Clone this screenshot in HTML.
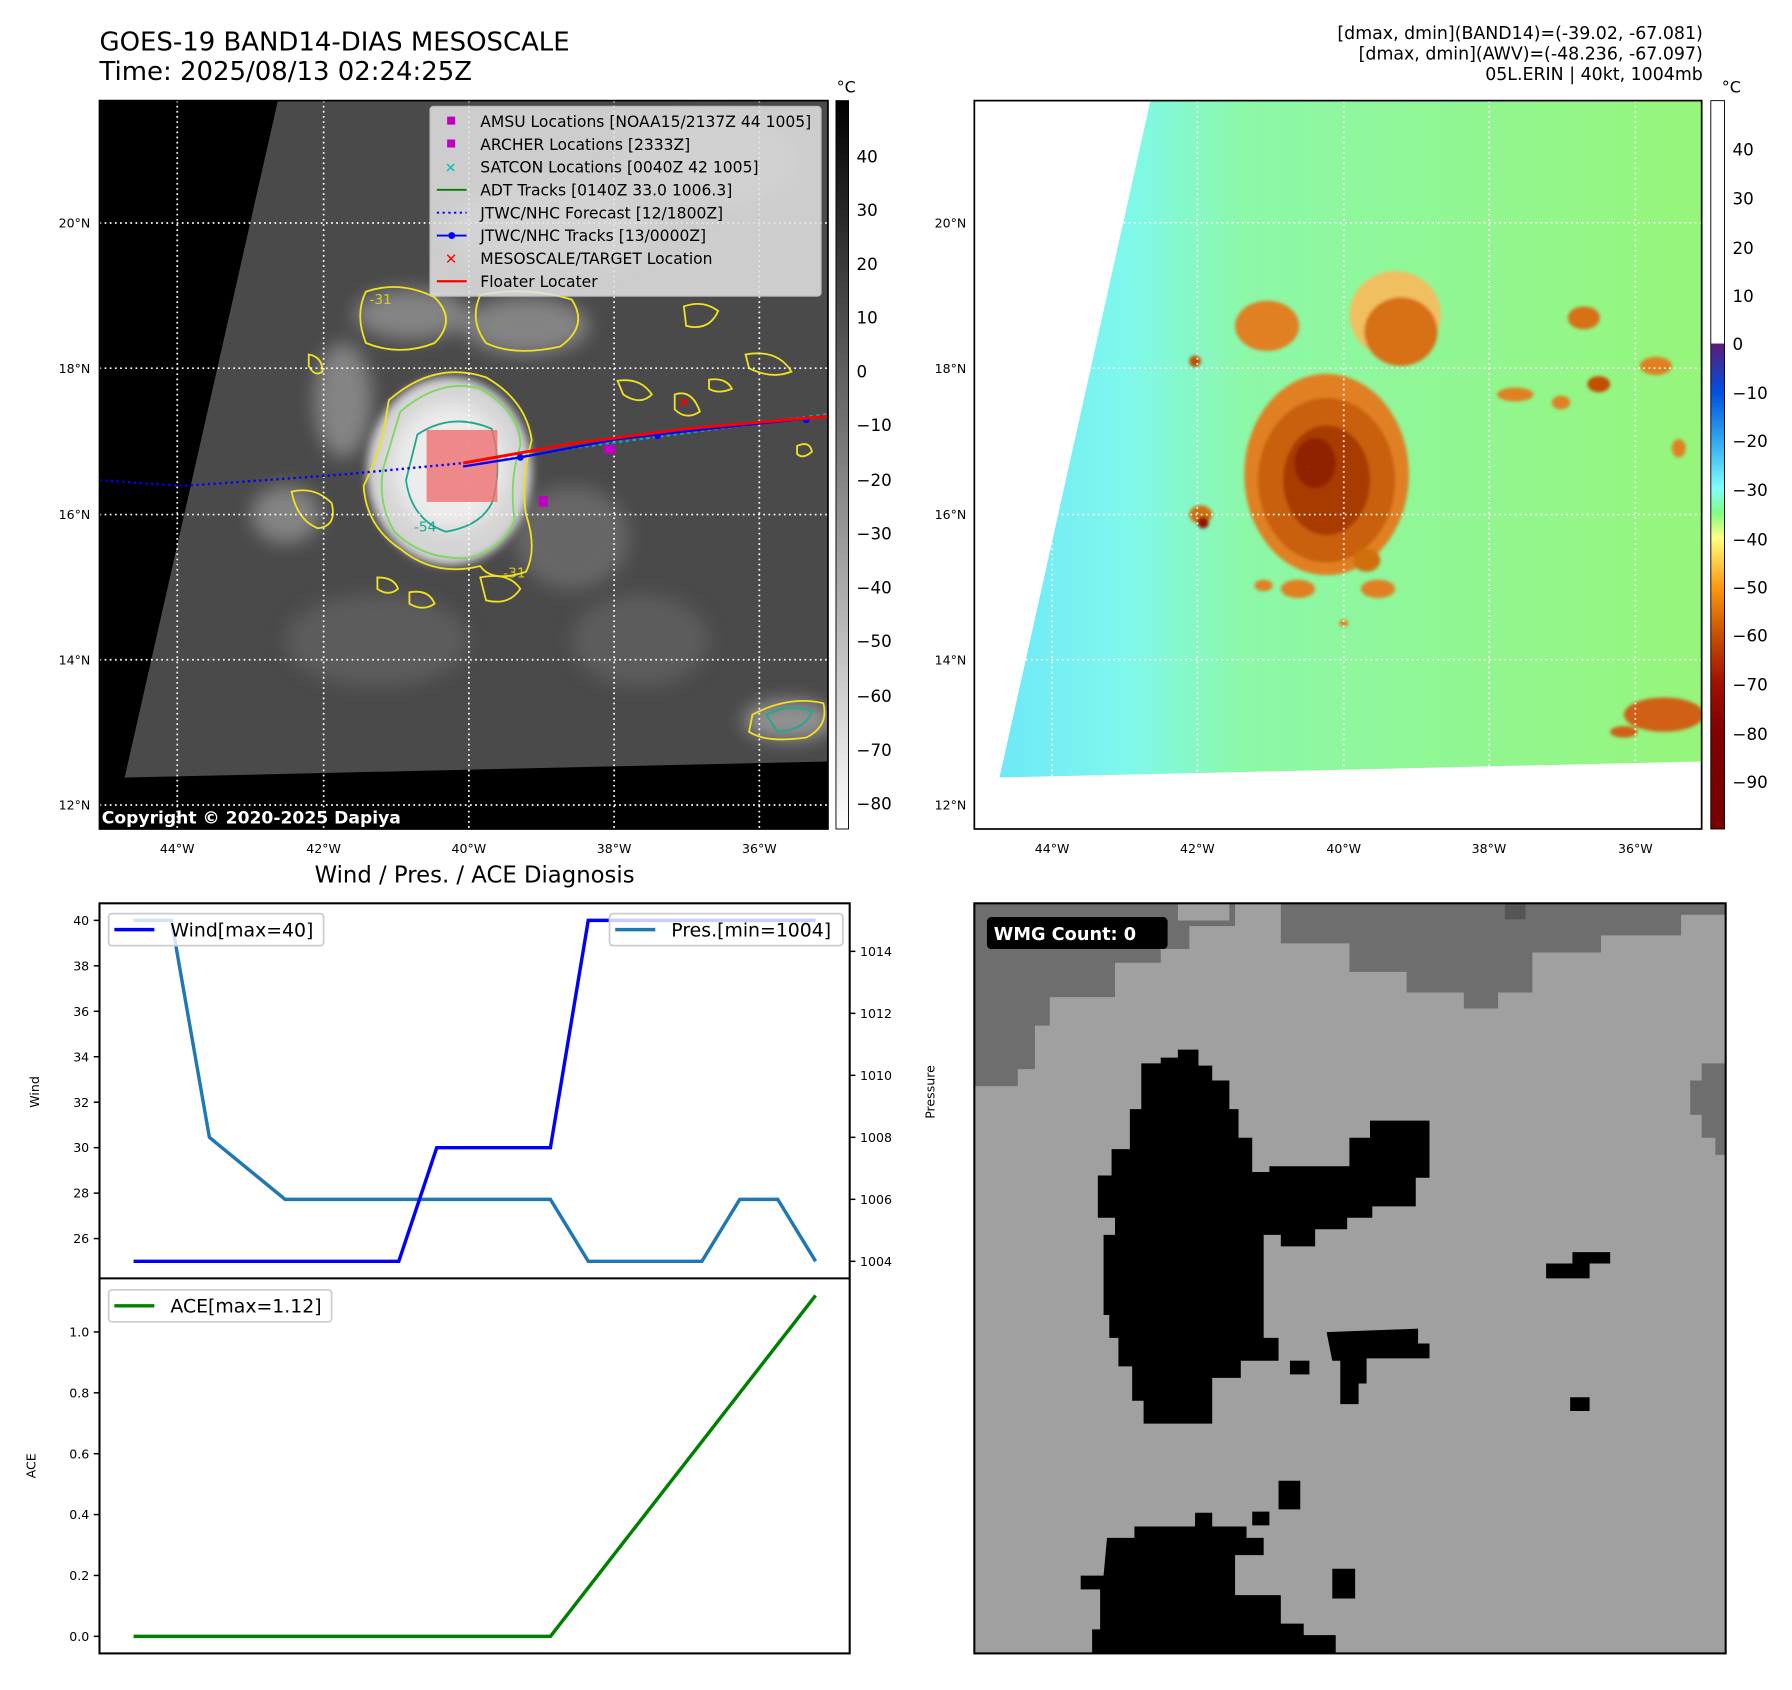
<!DOCTYPE html>
<html><head><meta charset="utf-8">
<style>
html,body{margin:0;padding:0;background:#fff;}
svg{display:block;font-family:"DejaVu Sans","Liberation Sans",sans-serif;}
</style></head>
<body>
<svg id="root" width="1792" height="1690" viewBox="0 0 1567 1478" preserveAspectRatio="none" xmlns="http://www.w3.org/2000/svg">
<defs>
  <filter id="blur4"><feGaussianBlur stdDeviation="4"/></filter>
  <filter id="blur8"><feGaussianBlur stdDeviation="8"/></filter>
  <filter id="blur2"><feGaussianBlur stdDeviation="1.5"/></filter>
  <linearGradient id="cbGray" x1="0" y1="1" x2="0" y2="0">
    <stop offset="0" stop-color="#ffffff"/><stop offset="1" stop-color="#000000"/>
  </linearGradient>
  <linearGradient id="cbColor" x1="0" y1="0" x2="0" y2="1">
    <stop offset="0" stop-color="#ffffff"/>
    <stop offset="0.333" stop-color="#ffffff"/>
    <stop offset="0.334" stop-color="#5a1a7a"/>
    <stop offset="0.40" stop-color="#0050e0"/>
    <stop offset="0.467" stop-color="#30a8f0"/>
    <stop offset="0.533" stop-color="#80ffff"/>
    <stop offset="0.567" stop-color="#80ff80"/>
    <stop offset="0.60" stop-color="#ffff80"/>
    <stop offset="0.667" stop-color="#ff9a10"/>
    <stop offset="0.733" stop-color="#c85000"/>
    <stop offset="0.80" stop-color="#a01000"/>
    <stop offset="0.87" stop-color="#800000"/>
    <stop offset="1" stop-color="#780000"/>
  </linearGradient>
  <linearGradient id="swathGrad" x1="0" y1="0" x2="1" y2="0">
    <stop offset="0" stop-color="#6ee8f8"/>
    <stop offset="0.18" stop-color="#7ff8ec"/>
    <stop offset="0.35" stop-color="#8cf8a8"/>
    <stop offset="1" stop-color="#96f57a"/>
  </linearGradient>
  <clipPath id="clipL"><rect x="87" y="88" width="637" height="637"/></clipPath>
  <clipPath id="clipR"><rect x="852" y="88" width="636" height="637"/></clipPath>
  <clipPath id="clipB"><rect x="852" y="790" width="657" height="656"/></clipPath>
</defs>

<!-- Titles -->
<text x="87" y="44" font-size="22.7" fill="#000">GOES-19 BAND14-DIAS MESOSCALE</text>
<text x="87" y="70" font-size="22.7" fill="#000">Time: 2025/08/13 02:24:25Z</text>
<g font-size="15.2" text-anchor="end" fill="#000">
  <text x="1489" y="34">[dmax, dmin](BAND14)=(-39.02, -67.081)</text>
  <text x="1489" y="52">[dmax, dmin](AWV)=(-48.236, -67.097)</text>
  <text x="1489" y="70">05L.ERIN | 40kt, 1004mb</text>
</g>

<!-- LEFT MAP -->
<g clip-path="url(#clipL)">
  <rect x="87" y="88" width="637" height="637" fill="#000"/>
  <polygon points="243,88 724,88 724,666 109,680" fill="#4a4a4a"/>
  <g filter="url(#blur8)" fill="#8a8a8a" opacity="0.9">
    <ellipse cx="360" cy="275" rx="50" ry="22"/>
    <ellipse cx="460" cy="285" rx="55" ry="25"/>
    <ellipse cx="300" cy="350" rx="25" ry="50"/>
    <ellipse cx="500" cy="470" rx="50" ry="45" fill="#6a6a6a"/>
    <ellipse cx="330" cy="560" rx="80" ry="40" fill="#5e5e5e"/>
    <ellipse cx="560" cy="560" rx="60" ry="40" fill="#5e5e5e"/>
    <ellipse cx="250" cy="450" rx="30" ry="25"/>
    <ellipse cx="690" cy="630" rx="40" ry="18" fill="#9a9a9a"/>
    <ellipse cx="480" cy="200" rx="90" ry="40" fill="#7a7a7a"/>
    <ellipse cx="620" cy="140" rx="80" ry="40" fill="#6a6a6a"/>
  </g>
  <ellipse cx="393" cy="412" rx="72" ry="82" fill="#d4d4d4" filter="url(#blur4)"/>
  <ellipse cx="393" cy="408" rx="50" ry="55" fill="#ececec" filter="url(#blur8)"/>
  <g fill="none" stroke-width="1.6">
    <path d="M340,350 Q380,315 425,330 Q460,350 465,385 Q455,420 460,450 Q470,480 460,500 Q430,510 420,495 Q380,505 350,480 Q320,460 318,425 Q330,400 335,380 Z" stroke="#f0e020"/>
    <path d="M350,360 Q385,330 420,340 Q455,360 455,390 Q445,420 450,455 Q440,480 410,488 Q370,490 345,465 Q330,440 335,410 Z" stroke="#7ed860"/>
    <path d="M365,380 Q395,360 430,375 Q440,410 430,440 Q420,460 390,465 Q360,455 355,420 Z" stroke="#20a890"/>
    <path d="M320,255 Q350,245 380,260 Q400,280 380,300 Q350,312 320,300 Q310,275 320,255 Z" stroke="#f0e020"/>
    <path d="M420,258 Q460,250 500,262 Q515,285 490,303 Q450,312 425,300 Q410,280 420,258 Z" stroke="#f0e020"/>
    <path d="M255,430 Q275,425 290,440 Q295,460 278,462 Q260,455 255,430 Z" stroke="#f0e020"/>
    <path d="M420,505 Q445,500 455,515 Q445,530 425,525 Z" stroke="#f0e020"/>
    <path d="M330,505 Q345,505 348,515 Q340,522 330,515 Z" stroke="#f0e020"/>
    <path d="M358,518 Q375,515 380,528 Q370,535 358,528 Z" stroke="#f0e020"/>
    <path d="M540,333 Q560,330 570,345 Q560,355 545,345 Z" stroke="#f0e020"/>
    <path d="M590,345 Q605,340 612,360 Q600,368 590,358 Z" stroke="#f0e020"/>
    <path d="M598,268 Q615,262 628,272 Q620,290 600,285 Z" stroke="#f0e020"/>
    <path d="M652,310 Q680,305 692,325 Q675,332 655,322 Z" stroke="#f0e020"/>
    <path d="M620,332 Q635,330 640,340 Q628,345 620,340 Z" stroke="#f0e020"/>
    <path d="M658,625 Q690,608 720,615 Q725,635 705,645 Q670,650 655,640 Z" stroke="#f0e020"/>
    <path d="M670,625 Q690,615 710,622 Q705,638 680,640 Z" stroke="#20a890"/>
    <path d="M270,310 Q282,312 282,325 Q275,330 270,320 Z" stroke="#f0e020"/>
    <path d="M697,390 Q708,385 710,395 Q702,402 697,397 Z" stroke="#f0e020"/>
  </g>
  <g font-size="12" fill="#f0e020" opacity="0.8"><text x="323" y="266">-31</text><text x="440" y="505">-31</text></g>
  <text x="362" y="465" font-size="12" fill="#20a890">-54</text>
  <g stroke="#fff" stroke-width="1.5" stroke-dasharray="1.5,3">
    <line x1="155" y1="88" x2="155" y2="725"/><line x1="283" y1="88" x2="283" y2="725"/><line x1="410" y1="88" x2="410" y2="725"/><line x1="537" y1="88" x2="537" y2="725"/><line x1="664" y1="88" x2="664" y2="725"/>
    <line x1="87" y1="195" x2="724" y2="195"/><line x1="87" y1="322" x2="724" y2="322"/><line x1="87" y1="450" x2="724" y2="450"/><line x1="87" y1="577" x2="724" y2="577"/><line x1="87" y1="704" x2="724" y2="704"/>
  </g>
  <rect x="373" y="376" width="62" height="63" fill="#f07070" opacity="0.8"/>
  <polyline points="87,420 160,425 300,415 405,405" fill="none" stroke="#0000ff" stroke-width="2" stroke-dasharray="2,3"/>
  <polyline points="405,408 500,392 620,376 724,362" fill="none" stroke="#00b0b0" stroke-width="2" stroke-dasharray="3,3"/>
  <polyline points="405,408 455,400 540,384 620,375 705,366" fill="none" stroke="#0000ff" stroke-width="2"/>
  <circle cx="455" cy="400" r="3" fill="#0000ff"/><circle cx="575" cy="381" r="3" fill="#0000ff"/><circle cx="705" cy="367" r="3" fill="#0000ff"/>
  <polyline points="405,405 500,388 600,375 724,364" fill="none" stroke="#ff0000" stroke-width="2.5"/>
  <rect x="471" y="434" width="8" height="9" fill="#c000c0"/>
  <rect x="528" y="389" width="10" height="8" fill="#c000c0"/>
  <text x="598" y="357" font-size="14" font-weight="bold" fill="#ff0000" text-anchor="middle">✕</text>
  <g>
    <rect x="376" y="93" width="342" height="166" rx="3" fill="#e4e4e4" opacity="0.85" stroke="#ccc"/>
    <g font-size="13.6" fill="#000">
      <rect x="391" y="102" width="7" height="7" fill="#c000c0"/><text x="420" y="111">AMSU Locations [NOAA15/2137Z 44 1005]</text>
      <rect x="391" y="122" width="7" height="7" fill="#c000c0"/><text x="420" y="131">ARCHER Locations [2333Z]</text>
      <text x="389" y="151" font-size="12" fill="#00c0c0" font-weight="bold">✕</text><text x="420" y="151">SATCON Locations [0040Z 42 1005]</text>
      <line x1="382" y1="166" x2="408" y2="166" stroke="#008000" stroke-width="1.6"/><text x="420" y="171">ADT Tracks [0140Z 33.0 1006.3]</text>
      <line x1="382" y1="186" x2="408" y2="186" stroke="#0000ff" stroke-width="1.6" stroke-dasharray="2,3"/><text x="420" y="191">JTWC/NHC Forecast [12/1800Z]</text>
      <line x1="382" y1="206" x2="408" y2="206" stroke="#0000ff" stroke-width="1.6"/><circle cx="395" cy="206" r="3" fill="#0000ff"/><text x="420" y="211">JTWC/NHC Tracks [13/0000Z]</text>
      <text x="389" y="231" font-size="13" fill="#ff0000" font-weight="bold">✕</text><text x="420" y="231">MESOSCALE/TARGET Location</text>
      <line x1="382" y1="246" x2="408" y2="246" stroke="#ff0000" stroke-width="2"/><text x="420" y="251">Floater Locater</text>
    </g>
  </g>
  <text x="89" y="720" font-size="15" font-weight="bold" fill="#fff">Copyright © 2020-2025 Dapiya</text>
</g>
<rect x="87" y="88" width="637" height="637" fill="none" stroke="#000" stroke-width="1.5"/>
<g font-size="11" fill="#000" text-anchor="middle">
  <text x="155" y="746">44°W</text><text x="283" y="746">42°W</text><text x="410" y="746">40°W</text><text x="537" y="746">38°W</text><text x="664" y="746">36°W</text>
</g>
<g font-size="11" fill="#000" text-anchor="end">
  <text x="79" y="199">20°N</text><text x="79" y="326">18°N</text><text x="79" y="454">16°N</text><text x="79" y="581">14°N</text><text x="79" y="708">12°N</text>
</g>
<g>
  <rect x="731" y="88" width="11" height="637" fill="url(#cbGray)" stroke="#000" stroke-width="0.8"/>
  <text x="740" y="81" font-size="14" text-anchor="middle">°C</text>
  <g font-size="14.6" fill="#000">
    <text x="749" y="142">40</text><text x="749" y="189">30</text><text x="749" y="236">20</text><text x="749" y="283">10</text><text x="749" y="330">0</text>
    <text x="749" y="377">−10</text><text x="749" y="425">−20</text><text x="749" y="472">−30</text><text x="749" y="519">−40</text><text x="749" y="566">−50</text>
    <text x="749" y="614">−60</text><text x="749" y="661">−70</text><text x="749" y="708">−80</text>
  </g>
</g>

<!-- RIGHT MAP -->
<g clip-path="url(#clipR)">
  <rect x="852" y="88" width="636" height="637" fill="#fff"/>
  <polygon points="1006,88 1488,88 1488,666 874,680" fill="url(#swathGrad)"/>
  <g filter="url(#blur2)">
    <ellipse cx="1160" cy="415" rx="72" ry="88" fill="#e08020"/>
    <ellipse cx="1160" cy="420" rx="60" ry="72" fill="#c86010"/>
    <ellipse cx="1160" cy="420" rx="38" ry="48" fill="#a83a00"/>
    <ellipse cx="1150" cy="405" rx="18" ry="22" fill="#902000"/>
    <ellipse cx="1108" cy="285" rx="28" ry="22" fill="#e08020"/>
    <ellipse cx="1220" cy="275" rx="40" ry="38" fill="#f0c060"/>
    <ellipse cx="1225" cy="290" rx="32" ry="30" fill="#d87018"/>
    <ellipse cx="1050" cy="450" rx="10" ry="8" fill="#d07010"/>
    <ellipse cx="1052" cy="457" rx="5" ry="5" fill="#901800"/>
    <ellipse cx="1385" cy="278" rx="14" ry="10" fill="#d87018"/>
    <ellipse cx="1398" cy="336" rx="10" ry="7" fill="#c05000"/>
    <ellipse cx="1448" cy="320" rx="14" ry="8" fill="#e08020"/>
    <ellipse cx="1325" cy="345" rx="16" ry="6" fill="#e08020"/>
    <ellipse cx="1365" cy="352" rx="8" ry="6" fill="#e08020"/>
    <ellipse cx="1468" cy="392" rx="6" ry="8" fill="#e08020"/>
    <ellipse cx="1455" cy="625" rx="35" ry="15" fill="#d06018"/>
    <ellipse cx="1420" cy="640" rx="12" ry="5" fill="#d06018"/>
    <ellipse cx="1195" cy="490" rx="12" ry="10" fill="#d07010"/>
    <ellipse cx="1135" cy="515" rx="15" ry="8" fill="#e08020"/>
    <ellipse cx="1205" cy="515" rx="15" ry="8" fill="#e08020"/>
    <ellipse cx="1105" cy="512" rx="8" ry="5" fill="#e08020"/>
    <ellipse cx="1175" cy="545" rx="4" ry="3" fill="#e08020"/>
    <ellipse cx="1045" cy="316" rx="5" ry="5" fill="#c05000"/>
  </g>
  <g stroke="#fff" stroke-width="1.5" stroke-dasharray="1.5,3">
    <line x1="920" y1="88" x2="920" y2="725"/><line x1="1047" y1="88" x2="1047" y2="725"/><line x1="1175" y1="88" x2="1175" y2="725"/><line x1="1302" y1="88" x2="1302" y2="725"/><line x1="1430" y1="88" x2="1430" y2="725"/>
    <line x1="852" y1="195" x2="1488" y2="195"/><line x1="852" y1="322" x2="1488" y2="322"/><line x1="852" y1="450" x2="1488" y2="450"/><line x1="852" y1="577" x2="1488" y2="577"/><line x1="852" y1="704" x2="1488" y2="704"/>
  </g>
</g>
<rect x="852" y="88" width="636" height="637" fill="none" stroke="#000" stroke-width="1.5"/>
<g font-size="11" fill="#000" text-anchor="middle">
  <text x="920" y="746">44°W</text><text x="1047" y="746">42°W</text><text x="1175" y="746">40°W</text><text x="1302" y="746">38°W</text><text x="1430" y="746">36°W</text>
</g>
<g font-size="11" fill="#000" text-anchor="end">
  <text x="845" y="199">20°N</text><text x="845" y="326">18°N</text><text x="845" y="454">16°N</text><text x="845" y="581">14°N</text><text x="845" y="708">12°N</text>
</g>
<g>
  <rect x="1496" y="88" width="12" height="637" fill="url(#cbColor)" stroke="#000" stroke-width="0.8"/>
  <text x="1514" y="81" font-size="14" text-anchor="middle">°C</text>
  <g font-size="14.6" fill="#000">
    <text x="1515" y="136">40</text><text x="1515" y="179">30</text><text x="1515" y="222">20</text><text x="1515" y="264">10</text><text x="1515" y="306">0</text>
    <text x="1515" y="349">−10</text><text x="1515" y="391">−20</text><text x="1515" y="434">−30</text><text x="1515" y="477">−40</text><text x="1515" y="519">−50</text>
    <text x="1515" y="561">−60</text><text x="1515" y="604">−70</text><text x="1515" y="647">−80</text><text x="1515" y="689">−90</text>
  </g>
</g>

<!-- BOTTOM RIGHT WMG -->
<g clip-path="url(#clipB)">
  <rect x="852" y="790" width="657" height="656" fill="#a0a0a0"/>
  <g fill="#6e6e6e">
    <polygon points="852,790 1030,790 1030,805 1075,805 1075,790 1509,790 1509,800 1470,800 1470,818 1400,818 1400,833 1340,833 1340,868 1310,868 1310,882 1280,882 1280,868 1230,868 1230,850 1180,850 1180,825 1120,825 1120,790 1080,790 1080,810 1040,810 1040,830 1015,830 1015,842 975,842 975,872 918,872 918,897 905,897 905,935 890,935 890,950 852,950"/>
    <polygon points="1488,930 1509,930 1509,1010 1500,1010 1500,995 1488,995 1488,975 1478,975 1478,945 1488,945"/>
    <rect x="1316" y="790" width="18" height="14" fill="#555"/>
  </g>
  <g fill="#000">
    <polygon points="1030,918 1048,918 1048,932 1060,932 1060,945 1075,945 1075,970 1083,970 1083,995 1095,995 1095,1025 1110,1025 1110,1020 1180,1020 1180,995 1198,995 1198,980 1250,980 1250,1030 1238,1030 1238,1055 1200,1055 1200,1065 1178,1065 1178,1075 1150,1075 1150,1090 1120,1090 1120,1080 1105,1080 1105,1170 1118,1170 1118,1190 1085,1190 1085,1205 1060,1205 1060,1245 1000,1245 1000,1225 990,1225 990,1195 978,1195 978,1170 970,1170 970,1150 965,1150 965,1080 975,1080 975,1065 960,1065 960,1028 972,1028 972,1005 988,1005 988,970 998,970 998,930 1015,930 1015,925 1030,925"/>
    <polygon points="1160,1165 1240,1162 1240,1175 1250,1175 1250,1188 1195,1188 1195,1210 1188,1210 1188,1228 1172,1228 1172,1190 1165,1190"/>
    <rect x="1128" y="1190" width="17" height="12"/>
    <polygon points="1352,1105 1375,1105 1375,1095 1408,1095 1408,1105 1390,1105 1390,1118 1352,1118"/>
    <rect x="1373" y="1222" width="17" height="12"/>
    <polygon points="1118,1295 1137,1295 1137,1320 1118,1320"/>
    <rect x="1095" y="1322" width="15" height="12"/>
    <polygon points="1165,1372 1185,1372 1185,1398 1165,1398"/>
    <polygon points="968,1345 992,1345 992,1335 1045,1335 1045,1323 1060,1323 1060,1335 1090,1335 1090,1345 1105,1345 1105,1360 1080,1360 1080,1395 1120,1395 1120,1420 1140,1420 1140,1430 1168,1430 1168,1446 955,1446 955,1425 962,1425 962,1390 945,1390 945,1378 965,1378"/>
  </g>
  <rect x="863" y="802" width="158" height="28" rx="4" fill="#000"/>
  <text x="869" y="822" font-size="15.5" font-weight="bold" fill="#fff">WMG Count: 0</text>
</g>
<rect x="852" y="790" width="657" height="656" fill="none" stroke="#000" stroke-width="1.8"/>

<!-- BOTTOM LEFT CHARTS -->
<text x="415" y="772" font-size="19.9" text-anchor="middle" fill="#000">Wind / Pres. / ACE Diagnosis</text>
<g id="charts"></g>
<rect x="87" y="790" width="656" height="656" fill="none" stroke="#000" stroke-width="1.8"/>
<line x1="87" y1="1118" x2="743" y2="1118" stroke="#000" stroke-width="1.8"/>
<text transform="translate(34,955) rotate(-90)" font-size="11" text-anchor="middle">Wind</text>
<text transform="translate(817,955) rotate(-90)" font-size="11" text-anchor="middle">Pressure</text>
<text transform="translate(31,1282) rotate(-90)" font-size="11" text-anchor="middle">ACE</text>
</svg>

<script>
const windValues = [25,25,25,25,25,25,25,25,30,30,30,30,40,40,40,40,40,40,40];
const pressureValues = [1015,1015,1008,1007,1006,1006,1006,1006,1006,1006,1006,1006,1004,1004,1004,1004,1006,1006,1004];
const aceValues = [0,0,0,0,0,0,0,0,0,0,0,0,0.16,0.32,0.48,0.64,0.80,0.96,1.12];
const windTicks = [26,28,30,32,34,36,38,40];
const pressureTicks = [1004,1006,1008,1010,1012,1014];
const aceTicks = [0.0,0.2,0.4,0.6,0.8,1.0];

const NS = "http://www.w3.org/2000/svg";
const g = document.getElementById("charts");
const X0 = 87, X1 = 743, TOP = 790, MID = 1118, BOT = 1446;

function extent(a){const mn=Math.min(...a),mx=Math.max(...a);const p=(mx-mn)*0.05||0.5;return [mn-p,mx+p];}
const n = windValues.length;
const xPad = (n-1)*0.05;
function xScale(i){return X0 + (i + xPad)/((n-1)+2*xPad)*(X1-X0);}
function makeY(arr, y0, y1){const [a,b]=extent(arr);return v => y1 - (v-a)/(b-a)*(y1-y0);}
const yWind = makeY(windValues, TOP, MID);
const yPres = makeY(pressureValues, TOP, MID);
const yAce = makeY(aceValues, MID, BOT);

function el(tag, attrs){const e=document.createElementNS(NS,tag);for(const k in attrs)e.setAttribute(k,attrs[k]);g.appendChild(e);return e;}
function line(arr, ys, color, name){
  const pts = arr.map((v,i)=>xScale(i).toFixed(1)+","+ys(v).toFixed(1)).join(" ");
  const p = el("polyline",{points:pts,fill:"none",stroke:color,"stroke-width":"3","stroke-linejoin":"miter"});
  
  
}
line(pressureValues, yPres, "#1f77b4", "pressure-line");
line(windValues, yWind, "#0000ff", "wind-line");
line(aceValues, yAce, "#008000", "ace-line");

function ticks(vals, ys, side, fmt, name){
  vals.forEach(v=>{
    const y = ys(v);
    const x = side==="left"?X0:X1;
    const dx = side==="left"?-5:5;
    el("line",{x1:x,y1:y,x2:x+dx,y2:y,stroke:"#000","stroke-width":"1.3"});
    const t = el("text",{x: side==="left"?x-9:x+9, y:y+4, "font-size":"11","text-anchor":side==="left"?"end":"start",fill:"#000"});
    t.textContent = fmt(v);
    
    
  });
}
ticks(windTicks, yWind, "left", v=>String(v), "wind-tick-label");
ticks(pressureTicks, yPres, "right", v=>String(v), "pressure-tick-label");
ticks(aceTicks, yAce, "left", v=>v.toFixed(1), "ace-tick-label");

function legend(x, y, w, label, color, name){
  const r = el("rect",{x:x,y:y,width:w,height:28,rx:3,fill:"#fff","fill-opacity":"0.8",stroke:"#cccccc","stroke-width":"1.5"});
  
  
  el("line",{x1:x+5,y1:y+14,x2:x+40,y2:y+14,stroke:color,"stroke-width":"3"});
  const t = el("text",{x:x+54,y:y+20,"font-size":"16.5",fill:"#000"});
  t.textContent = label;
}
legend(95, 799, 188, "Wind[max=" + Math.max(...windValues) + "]", "#0000ff", "wind-legend");
legend(533, 799, 204, "Pres.[min=" + Math.min(...pressureValues) + "]", "#1f77b4", "pressure-legend");
legend(95, 1128, 195, "ACE[max=" + Math.max(...aceValues).toFixed(2) + "]", "#008000", "ace-legend");
</script>
</body></html>
